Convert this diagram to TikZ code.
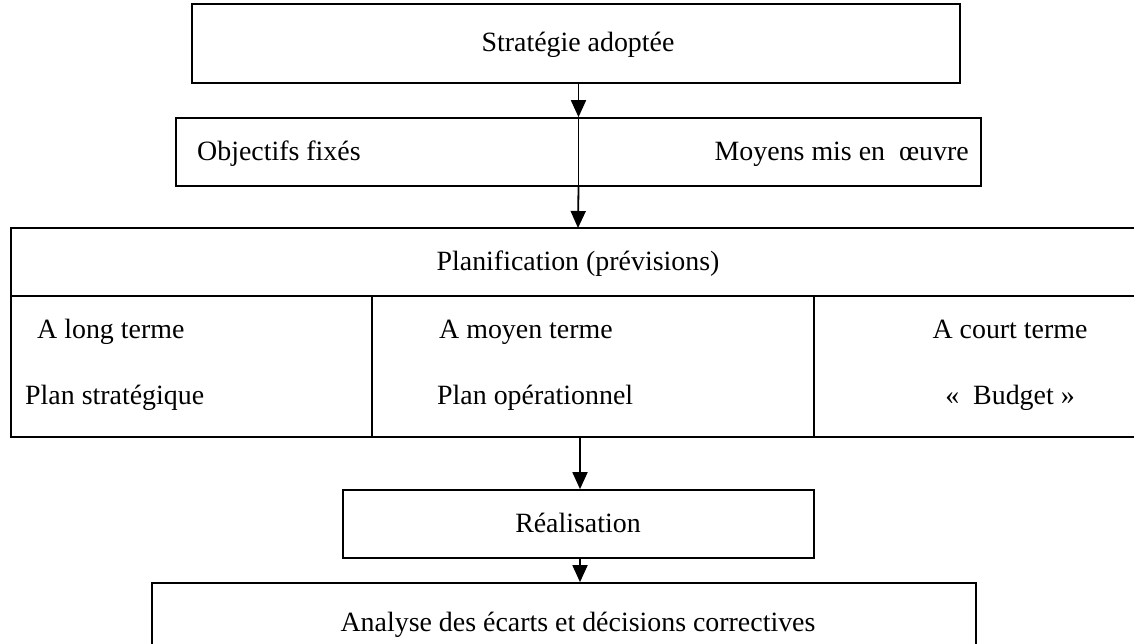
\documentclass[tikz,border=0pt]{standalone}
\usepackage{fontspec}
\setmainfont{Liberation Serif}
\usetikzlibrary{arrows.meta}
\begin{document}
\begin{tikzpicture}[x=1bp,y=-1bp,
  box/.style={draw,line width=1.7bp,inner sep=0pt},
  rule/.style={line width=1.7bp},
  flow/.style={line width=1.8bp,-{Triangle[width=15bp,length=17bp]}},
  txt/.style={font=\fontsize{28}{33}\selectfont,inner sep=0pt,anchor=base}]
\useasboundingbox (0,0) rectangle (1134,644);
% top box
\node[box,minimum width=768bp,minimum height=79bp] (strat) at (576,43.5) {};
\node[txt] at (578,52) {Stratégie adoptée};
% objectives / means box, split in the middle
\node[box,minimum width=805bp,minimum height=68bp] (obj) at (578.5,152) {};
\draw[rule] (obj.north) coordinate (objtop) -- (obj.south) coordinate (objbot);
\node[txt,anchor=base west] at (197,161) {Objectifs fixés};
\node[txt,anchor=base east] at (969,161) {Moyens mis en\ \ œuvre};
% planning block, open on the right
\coordinate (plnorth) at (578,228);
\coordinate (plsouth) at (580,437);
\draw[rule] (1134,228) -- (11,228) -- (11,437) -- (1134,437);
\draw[rule] (11,296) -- (1134,296);
\draw[rule] (372,296) -- (372,437);
\draw[rule] (814,296) -- (814,437);
\node[txt] at (578,271) {Planification (prévisions)};
\node[txt,anchor=base west] at (37,339) {A long terme};
\node[txt,anchor=base west] at (25,404) {Plan stratégique};
\node[txt,anchor=base west] at (439,339) {A moyen terme};
\node[txt,anchor=base west] at (437,404) {Plan opérationnel};
\node[txt] at (1010,339) {A court terme};
\node[txt] at (1010,404) {«\ \ Budget »};
% realisation
\node[box,minimum width=471bp,minimum height=68bp] (real) at (578.5,524) {};
\node[txt] at (578,532) {Réalisation};
% analysis
\node[box,minimum width=824bp,minimum height=90bp] (ana) at (564,628) {};
\node[txt] at (578,631) {Analyse des écarts et décisions correctives};
% arrows
\draw[flow] (strat.south -| objtop) -- (objtop);
\draw[flow] (objbot) -- (plnorth);
\draw[flow] (plsouth) -- (real.north -| plsouth);
\draw[flow] (real.south -| plsouth) -- (ana.north -| plsouth);
\end{tikzpicture}
\end{document}
